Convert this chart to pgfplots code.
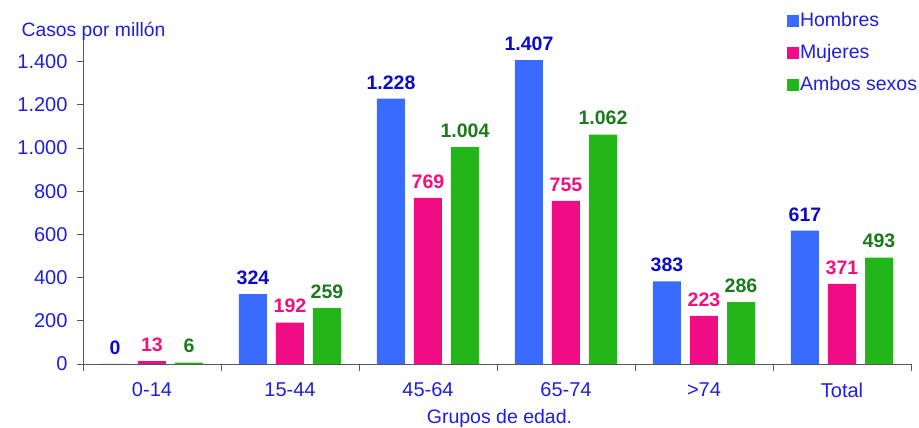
\documentclass[border=0pt]{standalone}
\usepackage{pgfplots}
\pgfplotsset{compat=1.18}
\usepackage{fontspec}
\setmainfont{Liberation Sans}
\definecolor{cblue}{HTML}{3A6BFF}
\definecolor{cpink}{HTML}{F00C85}
\definecolor{cgreen}{HTML}{22B61A}
\definecolor{lblue}{HTML}{0A0ACC}
\definecolor{lpink}{HTML}{F0107F}
\definecolor{lgreen}{HTML}{1A7A1A}
\definecolor{tblue}{HTML}{1E1EE0}
\definecolor{axgray}{HTML}{585858}
\begin{document}
\begin{tikzpicture}
\begin{axis}[
  at={(0pt,0pt)}, anchor=south west,
  scale only axis, width=828pt, height=324pt,
  ybar=9pt, bar width=28pt,
  xmin=-0.5, xmax=5.5, ymin=0, ymax=1500,
  axis lines*=left,
  axis line style={axgray, line width=0.9pt},
  xtick={0,...,5},
  xticklabels={0-14,15-44,45-64,65-74,>74,Total},
  minor xtick={-0.5,0.5,...,5.5},
  every major x tick/.append style={draw=none},
  ytick={0,200,...,1400},
  tick align=outside,
  major tick length=6pt, minor tick length=7pt,
  tick style={axgray, line width=0.9pt},
  /pgf/number format/.cd, 1000 sep={.}, assume math mode=true, /pgfplots/.cd,
  ticklabel style={font=\fontsize{20}{24}\selectfont, text=tblue},
  yticklabel style={xshift=-6pt},
  xticklabel style={yshift=-9pt},
  nodes near coords,
  every node near coord/.append style={font=\bfseries\fontsize{19.5}{23}\selectfont, yshift=6pt},
  legend style={at={(rel axis cs:0.850,1.0895)}, anchor=north west, draw=none, fill=none,
    font=\fontsize{19.5}{23}\selectfont, text=tblue, row sep=12pt, inner sep=0pt,
    nodes={inner sep=1pt, text height=14pt, text depth=4pt},
    /tikz/every even column/.append style={column sep=0pt}},
  legend cell align=left,
  legend image code/.code={\fill[#1] (0pt,-6pt) rectangle (12pt,6pt);},
  clip=false,
]
\addplot[fill=cblue, draw=none, nodes near coords style={text=lblue}] coordinates {(0,0) (1,324) (2,1228) (3,1407) (4,383) (5,617)};
\addplot[fill=cpink, draw=none, nodes near coords style={text=lpink}] coordinates {(0,13) (1,192) (2,769) (3,755) (4,223) (5,371)};
\addplot[fill=cgreen, draw=none, nodes near coords style={text=lgreen}] coordinates {(0,6) (1,259) (2,1004) (3,1062) (4,286) (5,493)};
\legend{Hombres, Mujeres, Ambos sexos}
\node[anchor=base, text=tblue, font=\fontsize{19.3}{23}\selectfont] at (rel axis cs:0.0127,1.0123) {Casos por millón};
\node[anchor=base, text=tblue, font=\fontsize{19.5}{23}\selectfont] at (rel axis cs:0.503,-0.1836) {Grupos de edad.};
\end{axis}
\pgfresetboundingbox
\path (-83pt,-64pt) rectangle (836pt,364pt);
\end{tikzpicture}
\end{document}
